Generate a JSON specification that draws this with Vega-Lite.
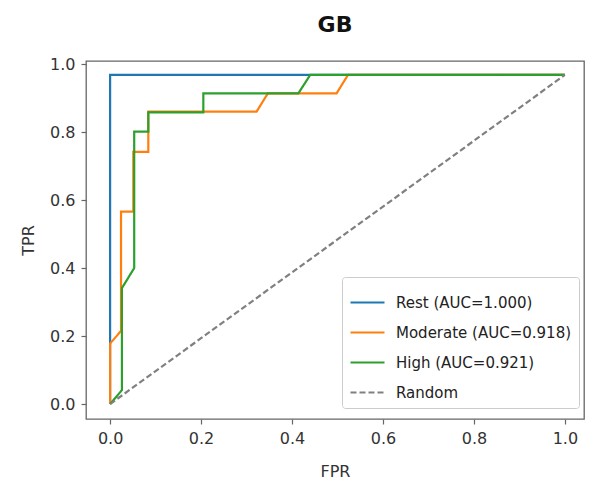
{
  "$schema": "https://vega.github.io/schema/vega-lite/v6.json",
  "width": 498,
  "height": 358,
  "autosize": "none",
  "padding": {"left": 86, "top": 61, "right": 27, "bottom": 83},
  "background": "white",
  "title": {"text": "GB", "fontSize": 22, "fontWeight": "bold", "font": "DejaVu Sans", "color": "#111", "offset": 19, "anchor": "middle"},
  "config": {
    "view": {"stroke": "#666", "strokeWidth": 1.3},
    "axis": {"grid": false, "domain": false, "tickColor": "#666", "tickSize": 5, "tickWidth": 1.2, "labelFont": "DejaVu Sans", "labelFontSize": 16, "labelColor": "#333", "titleFont": "DejaVu Sans", "titleFontSize": 16, "titleFontWeight": "normal", "titleColor": "#333"}
  },
  "data": {"values": [
    {"series": "Rest (AUC=1.000)", "i": 0, "fpr": 0, "tpr": 0},
    {"series": "Rest (AUC=1.000)", "i": 1, "fpr": 0, "tpr": 0.968},
    {"series": "Rest (AUC=1.000)", "i": 2, "fpr": 1, "tpr": 0.968},
    {"series": "Moderate (AUC=0.918)", "i": 0, "fpr": 0, "tpr": 0},
    {"series": "Moderate (AUC=0.918)", "i": 1, "fpr": 0, "tpr": 0.178},
    {"series": "Moderate (AUC=0.918)", "i": 2, "fpr": 0.024, "tpr": 0.215},
    {"series": "Moderate (AUC=0.918)", "i": 3, "fpr": 0.024, "tpr": 0.566},
    {"series": "Moderate (AUC=0.918)", "i": 4, "fpr": 0.051, "tpr": 0.566},
    {"series": "Moderate (AUC=0.918)", "i": 5, "fpr": 0.051, "tpr": 0.742},
    {"series": "Moderate (AUC=0.918)", "i": 6, "fpr": 0.084, "tpr": 0.742},
    {"series": "Moderate (AUC=0.918)", "i": 7, "fpr": 0.084, "tpr": 0.86},
    {"series": "Moderate (AUC=0.918)", "i": 8, "fpr": 0.322, "tpr": 0.86},
    {"series": "Moderate (AUC=0.918)", "i": 9, "fpr": 0.347, "tpr": 0.914},
    {"series": "Moderate (AUC=0.918)", "i": 10, "fpr": 0.498, "tpr": 0.914},
    {"series": "Moderate (AUC=0.918)", "i": 11, "fpr": 0.523, "tpr": 0.968},
    {"series": "Moderate (AUC=0.918)", "i": 12, "fpr": 1, "tpr": 0.968},
    {"series": "High (AUC=0.921)", "i": 0, "fpr": 0, "tpr": 0},
    {"series": "High (AUC=0.921)", "i": 1, "fpr": 0.026, "tpr": 0.041},
    {"series": "High (AUC=0.921)", "i": 2, "fpr": 0.026, "tpr": 0.341},
    {"series": "High (AUC=0.921)", "i": 3, "fpr": 0.053, "tpr": 0.4},
    {"series": "High (AUC=0.921)", "i": 4, "fpr": 0.053, "tpr": 0.801},
    {"series": "High (AUC=0.921)", "i": 5, "fpr": 0.084, "tpr": 0.801},
    {"series": "High (AUC=0.921)", "i": 6, "fpr": 0.084, "tpr": 0.858},
    {"series": "High (AUC=0.921)", "i": 7, "fpr": 0.205, "tpr": 0.858},
    {"series": "High (AUC=0.921)", "i": 8, "fpr": 0.205, "tpr": 0.914},
    {"series": "High (AUC=0.921)", "i": 9, "fpr": 0.414, "tpr": 0.914},
    {"series": "High (AUC=0.921)", "i": 10, "fpr": 0.44, "tpr": 0.968},
    {"series": "High (AUC=0.921)", "i": 11, "fpr": 1, "tpr": 0.968},
    {"series": "Random", "i": 0, "fpr": 0, "tpr": 0},
    {"series": "Random", "i": 1, "fpr": 1, "tpr": 0.968}
  ]},
  "mark": {"type": "line", "strokeWidth": 2.2, "clip": true},
  "encoding": {
    "x": {"field": "fpr", "type": "quantitative", "title": "FPR",
          "scale": {"domain": [-0.053, 1.042], "nice": false, "zero": false},
          "axis": {"values": [0, 0.2, 0.4, 0.6, 0.8, 1.0], "format": ".1f", "labelPadding": 6, "titlePadding": 17}},
    "y": {"field": "tpr", "type": "quantitative", "title": "TPR",
          "scale": {"domain": [-0.044, 1.009], "nice": false, "zero": false},
          "axis": {"values": [0, 0.2, 0.4, 0.6, 0.8, 1.0], "format": ".1f", "labelPadding": 6, "titlePadding": 13}},
    "color": {"field": "series", "type": "nominal", "title": null,
              "scale": {"domain": ["Rest (AUC=1.000)", "Moderate (AUC=0.918)", "High (AUC=0.921)", "Random"],
                        "range": ["#1f77b4", "#ff7f0e", "#2ca02c", "#808080"]},
              "legend": {"orient": "none", "legendX": 256, "legendY": 216, "symbolType": "stroke", "symbolSize": 1156, "symbolStrokeWidth": 2.2,
                         "labelFont": "DejaVu Sans", "labelFontSize": 15, "labelColor": "#222", "labelOffset": 10, "labelLimit": 400, "rowPadding": 3,
                         "padding": 7, "strokeColor": "#ccc", "fillColor": "white", "cornerRadius": 3}},
    "strokeDash": {"field": "series", "type": "nominal", "title": null,
                   "scale": {"domain": ["Rest (AUC=1.000)", "Moderate (AUC=0.918)", "High (AUC=0.921)", "Random"],
                             "range": [[1, 0], [1, 0], [1, 0], [6, 3]]}},
    "order": {"field": "i", "type": "quantitative"}
  }
}
